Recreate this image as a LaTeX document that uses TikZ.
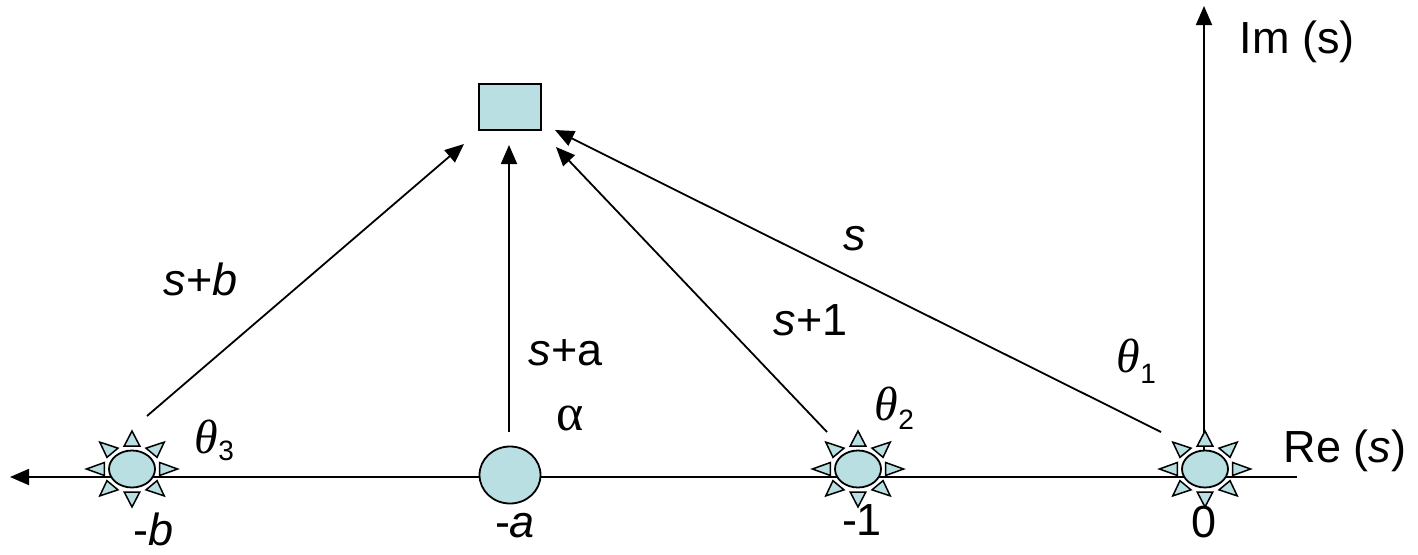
\documentclass[tikz,border=0pt]{standalone}
\usepackage{fontspec}
\setmainfont{Liberation Sans}
\newfontfamily\seriffam{Liberation Serif}
\usetikzlibrary{arrows.meta,shapes.geometric}
\definecolor{polefill}{RGB}{185,223,227}
\begin{document}
\begin{tikzpicture}[x=1pt,y=-1pt,
  line width=1.8pt,
  conn/.style={-{Triangle[length=19pt,width=16pt]}},
  lab/.style={anchor=base west,inner sep=0pt,font=\fontsize{45}{54}\selectfont},
  thlab/.style={anchor=base west,inner sep=0pt},
  pz/.style={draw,fill=polefill,ellipse,minimum width=46pt,minimum height=37pt,inner sep=0pt},
  ray/.style={draw,fill=polefill,line width=1.5pt,line join=miter},
  starpz/.pic={
    \foreach \a in {0,45,...,315}
      \draw[ray,xscale=1.2,rotate=\a] (23,-6.5) -- (38,0) -- (23,6.5) -- cycle;
    \node[pz] (-c) at (0,0) {};
  }
]
\useasboundingbox (0,0) rectangle (1418,554);
% axes
\coordinate (reR) at (1297,477);
\coordinate (reL) at (10,477);
\coordinate (imB) at (1204,469);
\coordinate (imT) at (1204,6);
\draw[conn] (reR) -- (reL);
\draw[conn] (imB) -- (imT);
% poles and zeros
\pic (pb) at (132,469) {starpz};
\pic (p1) at (858,469) {starpz};
\pic (p0) at (1205,469) {starpz};
\node[pz,minimum width=61pt,minimum height=57pt] (za) at (510,475) {};
% test point
\node[draw,fill=polefill,minimum width=62pt,minimum height=46pt,inner sep=0pt] (sq) at (510,107) {};
% vectors
\coordinate (vb0) at (147,416); \coordinate (vb1) at (464,144);
\coordinate (va0) at (509,432); \coordinate (va1) at (509,145);
\coordinate (v10) at (827,432); \coordinate (v11) at (556,147);
\coordinate (v00) at (1161,432); \coordinate (v01) at (555,130);
\draw[conn] (vb0) -- (vb1);
\draw[conn] (va0) -- (va1);
\draw[conn] (v10) -- (v11);
\draw[conn] (v00) -- (v01);
% labels
\node[lab] (lsb) at (163,295) {{\itshape s}+{\itshape b}};
\node[lab] (lsa) at (528,365) {{\itshape s}+a};
\node[lab] (ls1) at (773,335) {{\itshape s}+1};
\node[lab] (ls) at (843,250) {{\itshape s}};
\node[thlab] (th1) at (1116,372) {{\fontsize{48}{56}\selectfont\seriffam\itshape θ}\raisebox{-11pt}{\fontsize{28}{32}\selectfont 1}};
\node[thlab] (th2) at (874,420) {{\fontsize{48}{56}\selectfont\seriffam\itshape θ}\raisebox{-9pt}{\fontsize{28}{32}\selectfont 2}};
\node[thlab] (th3) at (194,453) {{\fontsize{48}{56}\selectfont\seriffam\itshape θ}\raisebox{-7pt}{\fontsize{28}{32}\selectfont 3}};
\node[thlab] (al) at (556,430) {\fontsize{52}{60}\selectfont\seriffam α};
\node[lab] (lb) at (133,545) {-{\itshape b}};
\node[lab,anchor=base] (la) at (515,537) {-{\itshape a}};
\node[lab,anchor=base] (l1) at (862,535) {-1};
\node[lab,anchor=base] (l0) at (1204,537) {0};
\node[lab] (lre) at (1283,462) {Re ({\itshape s})};
\node[lab] (lim) at (1239,53) {Im (s)};
\end{tikzpicture}
\end{document}
